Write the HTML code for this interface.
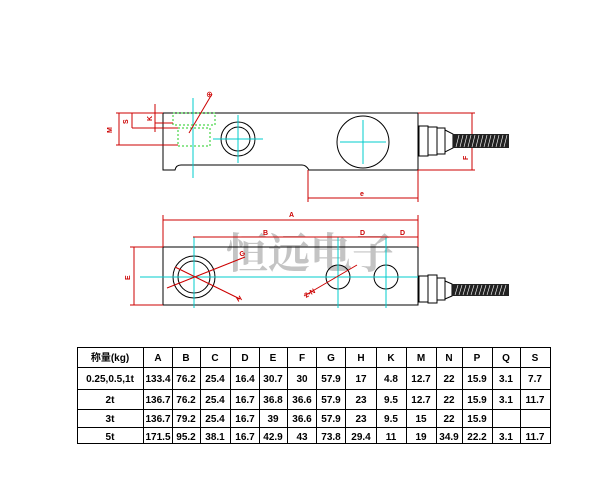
<!DOCTYPE html>
<html><head><meta charset="utf-8"><style>
html,body{margin:0;padding:0;background:#fff;}
svg{display:block;}
text{font-family:"Liberation Sans","Noto Sans CJK SC",sans-serif;}
</style></head><body>
<svg width="603" height="503" viewBox="0 0 603 503" xmlns="http://www.w3.org/2000/svg">
<!-- Drawing 1 -->
<g fill="none" stroke-width="1">
<path d="M163,113 H418 V170 H309 Q306,165 302,165 H181 Q176,165 175,170 H163 Z" stroke="#000"/>
<circle cx="238" cy="139" r="17" stroke="#000"/>
<circle cx="238" cy="139" r="12" stroke="#000"/>
<circle cx="363" cy="142" r="26" stroke="#000"/>
<g stroke="#0cc">
<line x1="213" y1="139" x2="263" y2="139"/><line x1="238" y1="115" x2="238" y2="163"/>
<line x1="340" y1="142" x2="386" y2="142"/><line x1="363" y1="120" x2="363" y2="164"/>
<line x1="193" y1="98" x2="193" y2="178"/>
</g>
<g stroke="#2c2" stroke-dasharray="2,2">
<rect x="173" y="113" width="42" height="12"/>
<rect x="178" y="128" width="32" height="18"/>
</g>
<g stroke="#c00">
<line x1="418" y1="113" x2="475" y2="113"/><line x1="418" y1="170" x2="475" y2="170"/>
<line x1="472" y1="113" x2="472" y2="170"/>
<line x1="308" y1="170" x2="308" y2="202"/><line x1="418" y1="170" x2="418" y2="202"/>
<line x1="308" y1="198" x2="418" y2="198"/>
<line x1="116" y1="113" x2="163" y2="113"/><line x1="116" y1="145" x2="178" y2="145"/>
<line x1="119" y1="113" x2="119" y2="145"/>
<line x1="132" y1="113" x2="132" y2="128"/><line x1="132" y1="128" x2="178" y2="128"/>
<line x1="155" y1="104" x2="155" y2="132"/><line x1="155" y1="123" x2="173" y2="123"/>
<line x1="189" y1="133" x2="212" y2="94"/>
</g>
</g>
<g fill="#c00" font-size="7" font-weight="bold">
<text x="112" y="133" transform="rotate(-90 112 133)">M</text>
<text x="128" y="124" transform="rotate(-90 128 124)">S</text>
<text x="152" y="121" transform="rotate(-90 152 121)">K</text>
<text x="206" y="97">⊕</text>
<text x="360" y="196">e</text>
<text x="468" y="160" transform="rotate(-90 468 160)">F</text>
</g>
<!-- connector 1 -->
<g stroke="#000" fill="#fff">
<rect x="419" y="126" width="9" height="30"/>
<rect x="428" y="127" width="9" height="28"/>
<rect x="437" y="128" width="8" height="26"/>
<path d="M445,130 L453,134 V148 L445,152 Z"/>
</g>
<rect x="453" y="134" width="56" height="14" fill="#222"/>
<g stroke="#fff" stroke-width="0.6">
<path d="M456,147 l3,-12 M460,147 l3,-12 M464,147 l3,-12 M468,147 l3,-12 M472,147 l3,-12 M476,147 l3,-12 M480,147 l3,-12 M484,147 l3,-12 M488,147 l3,-12 M492,147 l3,-12 M496,147 l3,-12 M500,147 l3,-12 M504,147 l3,-12"/>
</g>
<!-- Drawing 2 -->
<text x="226" y="268" font-size="42" font-weight="bold" fill="#c4c4c4" style="font-family:'Noto Serif CJK SC','Noto Sans CJK SC',serif">恒远电子</text>
<g fill="none">
<rect x="163" y="247" width="255" height="58" stroke="#000"/>
<circle cx="194" cy="277" r="21" stroke="#000"/>
<circle cx="194" cy="277" r="16" stroke="#000"/>
<circle cx="338" cy="277" r="12" stroke="#000"/>
<circle cx="386" cy="277" r="12" stroke="#000"/>
<g stroke="#0cc">
<line x1="140" y1="277" x2="418" y2="277"/>
<line x1="194" y1="237" x2="194" y2="308"/>
<line x1="338" y1="237" x2="338" y2="308"/>
<line x1="386" y1="237" x2="386" y2="308"/>
</g>
<g stroke="#c00">
<line x1="163" y1="215" x2="163" y2="247"/><line x1="418" y1="215" x2="418" y2="247"/>
<line x1="163" y1="220" x2="418" y2="220"/>
<line x1="193" y1="237" x2="418" y2="237"/>
<line x1="130" y1="247" x2="163" y2="247"/><line x1="130" y1="305" x2="163" y2="305"/>
<line x1="134" y1="247" x2="134" y2="305"/>
<line x1="167" y1="288" x2="245" y2="257"/>
<line x1="175" y1="267" x2="240" y2="299"/>
<line x1="304" y1="296" x2="357" y2="265"/>
</g>
</g>
<g fill="#c00" font-size="7" font-weight="bold">
<text x="289" y="217">A</text>
<text x="263" y="235">B</text>
<text x="360" y="235">D</text>
<text x="400" y="235">D</text>
<text x="130" y="280" transform="rotate(-90 130 280)">E</text>
<text x="241" y="257" transform="rotate(-30 241 257)">G</text>
<text x="238" y="302" transform="rotate(-30 238 302)">H</text>
<text x="306" y="298" transform="rotate(-30 306 298)">2-N</text>
</g>
<g stroke="#000" fill="#fff">
<rect x="419" y="276" width="9" height="26"/>
<rect x="428" y="275" width="9" height="28"/>
<rect x="437" y="278" width="8" height="22"/>
<path d="M445,281 L452,284 V296 L445,299 Z"/>
</g>
<rect x="452" y="284" width="57" height="12" fill="#222"/>
<g stroke="#fff" stroke-width="0.6">
<path d="M455,295 l3,-10 M459,295 l3,-10 M463,295 l3,-10 M467,295 l3,-10 M471,295 l3,-10 M475,295 l3,-10 M479,295 l3,-10 M483,295 l3,-10 M487,295 l3,-10 M491,295 l3,-10 M495,295 l3,-10 M499,295 l3,-10 M503,295 l3,-10"/>
</g>
<!-- Table -->
<g stroke="#000" stroke-width="1" fill="none">
<rect x="77.5" y="347.5" width="473" height="96"/>
<path d="M77,367.5H551 M77,389.5H551 M77,409.5H551 M77,427.5H551"/>
<path d="M143.5,347V444 M172.5,347V444 M200.5,347V444 M230.5,347V444 M259.5,347V444 M287.5,347V444 M316.5,347V444 M345.5,347V444 M376.5,347V444 M406.5,347V444 M436.5,347V444 M462.5,347V444 M492.5,347V444 M520.5,347V444"/>
</g>
<g font-size="10" font-weight="bold" fill="#000" text-anchor="middle">
<text x="110" y="361">称量(kg)</text>
<text x="158" y="361">A</text><text x="186" y="361">B</text><text x="215" y="361">C</text><text x="245" y="361">D</text><text x="273" y="361">E</text><text x="302" y="361">F</text><text x="331" y="361">G</text><text x="361" y="361">H</text><text x="391" y="361">K</text><text x="421" y="361">M</text><text x="449" y="361">N</text><text x="477" y="361">P</text><text x="506" y="361">Q</text><text x="535" y="361">S</text>
<text x="110" y="382">0.25,0.5,1t</text>
<text x="158" y="382">133.4</text><text x="186" y="382">76.2</text><text x="215" y="382">25.4</text><text x="245" y="382">16.4</text><text x="273" y="382">30.7</text><text x="302" y="382">30</text><text x="331" y="382">57.9</text><text x="361" y="382">17</text><text x="391" y="382">4.8</text><text x="421" y="382">12.7</text><text x="449" y="382">22</text><text x="477" y="382">15.9</text><text x="506" y="382">3.1</text><text x="535" y="382">7.7</text>
<text x="110" y="403">2t</text>
<text x="158" y="403">136.7</text><text x="186" y="403">76.2</text><text x="215" y="403">25.4</text><text x="245" y="403">16.7</text><text x="273" y="403">36.8</text><text x="302" y="403">36.6</text><text x="331" y="403">57.9</text><text x="361" y="403">23</text><text x="391" y="403">9.5</text><text x="421" y="403">12.7</text><text x="449" y="403">22</text><text x="477" y="403">15.9</text><text x="506" y="403">3.1</text><text x="535" y="403">11.7</text>
<text x="110" y="422">3t</text>
<text x="158" y="422">136.7</text><text x="186" y="422">79.2</text><text x="215" y="422">25.4</text><text x="245" y="422">16.7</text><text x="273" y="422">39</text><text x="302" y="422">36.6</text><text x="331" y="422">57.9</text><text x="361" y="422">23</text><text x="391" y="422">9.5</text><text x="421" y="422">15</text><text x="449" y="422">22</text><text x="477" y="422">15.9</text>
<text x="110" y="440">5t</text>
<text x="158" y="440">171.5</text><text x="186" y="440">95.2</text><text x="215" y="440">38.1</text><text x="245" y="440">16.7</text><text x="273" y="440">42.9</text><text x="302" y="440">43</text><text x="331" y="440">73.8</text><text x="361" y="440">29.4</text><text x="391" y="440">11</text><text x="421" y="440">19</text><text x="449" y="440">34.9</text><text x="477" y="440">22.2</text><text x="506" y="440">3.1</text><text x="535" y="440">11.7</text>
</g>
</svg>
</body></html>
